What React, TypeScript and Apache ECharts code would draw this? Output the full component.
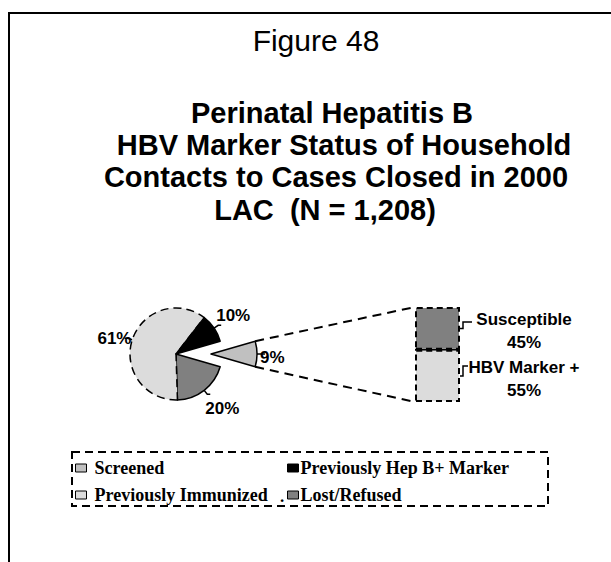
import React, { useEffect, useRef } from "react";
import * as echarts from "echarts";

// ---- data ----
const pieCategories = ["Screened", "Lost/Refused", "Previously Immunized", "Previously Hep B+ Marker"];
const pieValues = [9, 20, 61, 10];
const pieColors = ["#c0c0c0", "#808080", "#dcdcdc", "#000000"];
const legendColumn1 = ["Screened", "Previously Immunized"];
const legendColumn2 = ["Previously Hep B+ Marker", "Lost/Refused"];
const barCategories = ["HBV Marker +", "Susceptible"];
const barValues = [55, 45];
const barColors = ["#dcdcdc", "#808080"];
const titleLines = ["Perinatal Hepatitis B", "HBV Marker Status of Household", "Contacts to Cases Closed in 2000", "LAC  (N = 1,208)"];
const figureLabel = "Figure 48";

// ---- layout ----
const PIE_CX = 176;
const PIE_CY = 354;
const PIE_R = 46;
const EXPLODE = 35;
const BAR_LEFT = 415;
const BAR_W = 45;
const BAR_TOP = 307;
const BAR_H = 95;
const SANS = "Arial, 'Liberation Sans', sans-serif";
const SERIF = "'Times New Roman', 'Liberation Serif', serif";
const PIE_LABEL_SHIFT: number[][] = [
  [-10, 3],
  [-5, 7],
  [6, 0],
  [-5, -5],
];

export default function App() {
  const ref = useRef<HTMLDivElement>(null);
  useEffect(() => {
    if (!ref.current) return;
    const chart = echarts.init(ref.current, null, { renderer: "svg" });
    const screenedHalf = ((pieValues[0] / 100) * 360) / 2;
    const titleX = [332, 344, 336, 325];
    const titleY = [113, 145, 177, 210];

    const legendBase = {
      orient: "vertical",
      top: 459,
      padding: 0,
      itemGap: 9,
      itemWidth: 11,
      itemHeight: 8,
      icon: "rect",
      selectedMode: false,
      itemStyle: { borderColor: "#000", borderWidth: 1 },
    };

    const option: any = {
      animation: false,
      backgroundColor: "#ffffff",
      grid: { left: BAR_LEFT, top: BAR_TOP, width: BAR_W, height: BAR_H },
      xAxis: { type: "category", data: ["Screened"], show: false },
      yAxis: { type: "value", min: 0, max: 100, show: false },
      legend: [
        {
          ...legendBase,
          left: 75,
          data: legendColumn1,
          textStyle: { fontFamily: SERIF, fontWeight: "bold", fontSize: 18, color: "#000", padding: [0, 0, 0, 3] },
        },
        {
          ...legendBase,
          left: 287,
          data: legendColumn2,
          textStyle: { fontFamily: SERIF, fontWeight: "bold", fontSize: 18, color: "#000", padding: [0, 0, 0, -3] },
        },
      ],
      series: [
        {
          type: "pie",
          center: [PIE_CX, PIE_CY],
          radius: PIE_R,
          startAngle: screenedHalf,
          clockwise: true,
          selectedMode: "single",
          selectedOffset: EXPLODE,
          avoidLabelOverlap: false,
          label: {
            show: true,
            position: "outside",
            formatter: "{c}%",
            fontFamily: SANS,
            fontWeight: "bold",
            fontSize: 17,
            color: "#000",
          },
          labelLine: { show: true, length: 5, length2: 3, lineStyle: { color: "#000", width: 1.5 } },
          labelLayout: (p: any) => ({ dx: PIE_LABEL_SHIFT[p.dataIndex][0], dy: PIE_LABEL_SHIFT[p.dataIndex][1] }),
          emphasis: { disabled: true },
          data: pieCategories.map((name, i) => ({
            name,
            value: pieValues[i],
            selected: i === 0,
            itemStyle: {
              color: pieColors[i],
              borderColor: "#000",
              borderWidth: 1.5,
              borderType: i === 2 ? [8, 5] : "solid",
            },
            select: {
              itemStyle: {
                color: pieColors[i],
                borderColor: "#000",
                borderWidth: 1.5,
              },
            },
          })),
        },
        ...barCategories.map((name, i) => ({
          type: "bar",
          name,
          stack: "s",
          barWidth: "100%",
          data: [barValues[i]],
          itemStyle: { color: barColors[i], borderColor: "#000", borderWidth: 2, borderType: [6, 4] },
          emphasis: { disabled: true },
          label: {
            show: true,
            position: "right",
            distance: 20,
            formatter: "{a}\n{c}%",
            align: "center",
            fontFamily: SANS,
            fontWeight: "bold",
            fontSize: 17,
            lineHeight: 23,
            color: "#000",
            offset: [44, 3],
          },
        })),
      ],
    };
    chart.setOption(option);

    // derived decorations from chart coordinates
    const divY = chart.convertToPixel({ yAxisIndex: 0 }, barValues[0]) as number;
    const topY = chart.convertToPixel({ yAxisIndex: 0 }, 100) as number;
    const botY = chart.convertToPixel({ yAxisIndex: 0 }, 0) as number;
    const rad = (screenedHalf * Math.PI) / 180;
    const ex = PIE_CX + EXPLODE + PIE_R * Math.cos(rad);
    const eyTop = PIE_CY - PIE_R * Math.sin(rad);
    const eyBot = PIE_CY + PIE_R * Math.sin(rad);
    const barRight = BAR_LEFT + BAR_W;
    const seg1Mid = (topY + divY) / 2;
    const seg0Mid = (divY + botY) / 2;

    chart.setOption({
      graphic: [
        { type: "line", shape: { x1: 8, y1: 13, x2: 611, y2: 13 }, style: { stroke: "#000", lineWidth: 2 } },
        { type: "line", shape: { x1: 9, y1: 12, x2: 9, y2: 562 }, style: { stroke: "#000", lineWidth: 2 } },
        {
          type: "text",
          x: 316,
          y: 40,
          style: { text: figureLabel, fontFamily: SANS, fontSize: 30, fill: "#000", textAlign: "center", textVerticalAlign: "middle" },
        },
        ...titleLines.map((t, i) => ({
          type: "text",
          x: titleX[i],
          y: titleY[i],
          style: { text: t, fontFamily: SANS, fontWeight: "bold", fontSize: 29, fill: "#000", textAlign: "center", textVerticalAlign: "middle" },
        })),
        { type: "line", shape: { x1: ex, y1: eyTop, x2: BAR_LEFT, y2: topY }, style: { stroke: "#000", lineWidth: 2, lineDash: [9, 6] } },
        { type: "line", shape: { x1: ex, y1: eyBot, x2: BAR_LEFT, y2: botY }, style: { stroke: "#000", lineWidth: 2, lineDash: [9, 6] } },
        { type: "line", shape: { x1: BAR_LEFT, y1: divY, x2: barRight, y2: divY }, style: { stroke: "#000", lineWidth: 2 } },
        {
          type: "polyline",
          shape: { points: [[barRight, seg1Mid], [barRight + 3, seg1Mid], [barRight + 3, 322], [barRight + 12, 322]] },
          style: { stroke: "#000", lineWidth: 1.5, fill: "none" },
        },
        {
          type: "polyline",
          shape: { points: [[barRight, seg0Mid], [barRight + 3, seg0Mid], [barRight + 3, 366], [barRight + 8, 366]] },
          style: { stroke: "#000", lineWidth: 1.5, fill: "none" },
        },
        {
          type: "rect",
          shape: { x: 72, y: 452, width: 476, height: 54 },
          style: { fill: "none", stroke: "#000", lineWidth: 2, lineDash: [8, 5] },
        },
        {
          type: "text",
          x: 280,
          y: 496,
          style: { text: ".", fontFamily: SERIF, fontWeight: "bold", fontSize: 17, fill: "#000", textVerticalAlign: "middle" },
        },
      ],
    });

    return () => chart.dispose();
  }, []);
  return <div ref={ref} style={{ position: "fixed", left: 0, top: 0, width: 611, height: 562 }} />;
}
